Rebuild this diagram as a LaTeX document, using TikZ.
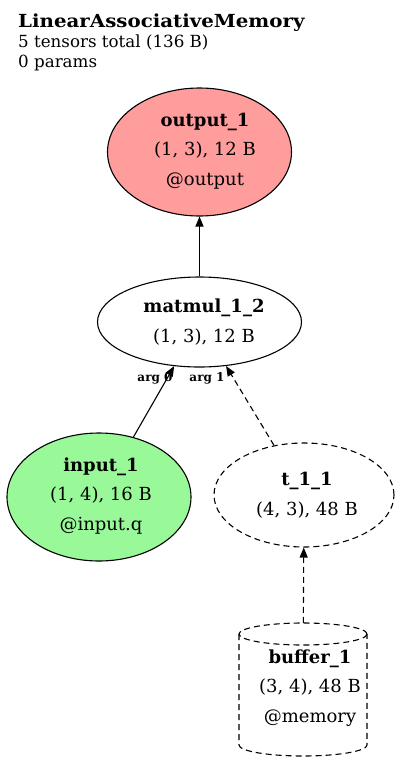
\documentclass[tikz,border=0pt]{standalone}
\usepackage{fontspec}
\setmainfont{DejaVu Serif}
\usetikzlibrary{shapes.geometric,arrows.meta}
\definecolor{outfill}{HTML}{FF9C9C}
\definecolor{infill}{HTML}{99F999}
\tikzset{
  txt/.style={font=\fontsize{18}{29.5}\selectfont, align=center, inner sep=0pt},
  ell/.style={ellipse, draw, line width=1.1pt, inner sep=0pt},
  dsh/.style={dash pattern=on 6pt off 4pt},
  edge/.style={line width=1.1pt, -{Triangle[length=10pt,width=8pt]}},
  lab/.style={font=\fontsize{12}{14}\selectfont\bfseries, inner sep=0pt},
  title/.style={font=\fontsize{16.7}{20}\selectfont, anchor=base west, inner sep=0pt}
}
\begin{document}
\begin{tikzpicture}[x=1pt,y=-1pt]
\useasboundingbox (0,0) rectangle (400,764);
\node[title] (title1) at (18,27) {\fontsize{18}{20}\selectfont\scalebox{1.1}[1]{\textbf{LinearAssociativeMemory}}};
\node[title] (title2) at (18,47) {5 tensors total (136 B)};
\node[title] (title3) at (18,67) {0 params};
\node[ell, fill=outfill, minimum width=184pt, minimum height=128pt] (out) at (199.5,152) {};
\node[txt] (outtxt) at (205,151) {\textbf{output\_1}\\(1, 3), 12 B\\@output};
\node[ell, minimum width=204pt, minimum height=90pt] (mm) at (199.5,322) {};
\node[txt] (mmtxt) at (204,322) {\textbf{matmul\_1\_2}\\(1, 3), 12 B};
\node[ell, fill=infill, minimum width=184pt, minimum height=128pt] (in) at (99,497) {};
\node[txt] (intxt) at (101,496) {\textbf{input\_1}\\(1, 4), 16 B\\@input.q};
\node[ell, dsh, minimum width=180pt, minimum height=104pt] (t) at (304,495) {};
\node[txt] (ttxt) at (307,495) {\textbf{t\_1\_1}\\(4, 3), 48 B};
% cylinder drawn by hand, with an invisible node for connecting
\node[draw=none, minimum width=128pt, minimum height=133pt, inner sep=0pt] (buf) at (303,689.5) {};
\draw[dsh, line width=1.1pt] (303,634) ellipse[x radius=64, y radius=11];
\draw[dsh, line width=1.1pt] (239,634) -- (239,745)
  arc[start angle=180, end angle=0, x radius=64, y radius=11] -- (367,634);
\node[txt] (buftxt) at (310,688) {\textbf{buffer\_1}\\(3, 4), 48 B\\@memory};
\draw[edge] (mm) -- (out);
\draw[edge] (in) -- (mm);
\draw[edge, dsh] (t) -- (mm);
\draw[edge, dsh] (buf) -- (t);
\node[lab] (a0) at (155,378) {arg 0};
\node[lab] (a1) at (207,378) {arg 1};
\end{tikzpicture}
\end{document}
